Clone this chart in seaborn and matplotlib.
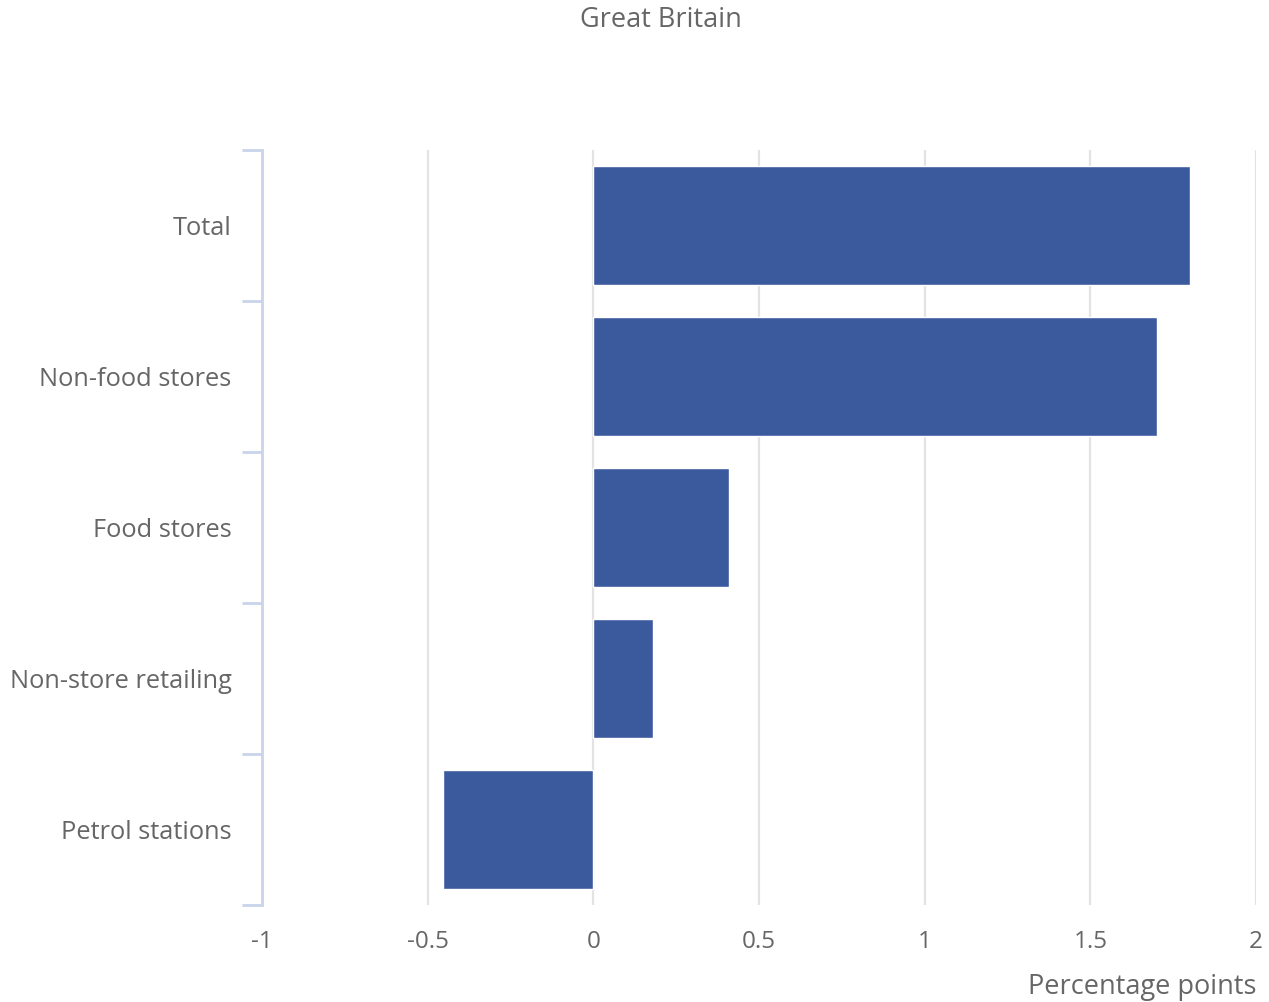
import matplotlib
matplotlib.use("Agg")
import matplotlib.pyplot as plt
import seaborn as sns
import pandas as pd
from matplotlib.ticker import FixedLocator

# data
categories = ["Total", "Non-food stores", "Food stores", "Non-store retailing", "Petrol stations"]
values = [1.80, 1.70, 0.41, 0.18, -0.455]
x_ticks = [-1, -0.5, 0, 0.5, 1, 1.5, 2]
x_tick_labels = ["-1", "-0.5", "0", "0.5", "1", "1.5", "2"]

df = pd.DataFrame({"category": categories, "value": values})

sns.set_style("white")
plt.rcParams["font.family"] = ["Open Sans", "DejaVu Sans"]

grey = "#666666"
axis_col = "#c9d4ea"

fig = plt.figure(figsize=(12.69, 10.02), dpi=100)
ax = fig.add_axes([262 / 1269, 1 - 905 / 1002, (1256 - 262) / 1269, (905 - 150) / 1002])

sns.barplot(data=df, x="value", y="category", orient="h", color="#3b5a9e",
            saturation=1, width=0.79, ax=ax, zorder=3)

ax.set_xlim(-1, 2)
ax.set_ylim(4.5, -0.5)
ax.set_xticks(x_ticks)
ax.set_xticklabels(x_tick_labels)
ax.grid(axis="x", color="#e3e3e3", linewidth=1.6, zorder=0)
ax.grid(axis="y", visible=False)
# the left axis line sits where the -1 grid line would be
ax.xaxis.get_gridlines()[0].set_visible(False)

for s in ["top", "right", "bottom"]:
    ax.spines[s].set_visible(False)
ax.spines["left"].set_color(axis_col)
ax.spines["left"].set_linewidth(2)
ax.spines["left"].set_zorder(4)

ax.tick_params(axis="x", length=0, pad=18, labelsize=17.5, labelcolor=grey)
ax.tick_params(axis="y", which="major", left=False, length=0, pad=22, labelsize=18.3, labelcolor=grey)
ax.yaxis.set_minor_locator(FixedLocator([-0.5, 0.5, 1.5, 2.5, 3.5, 4.5]))
ax.tick_params(axis="y", which="minor", left=True, length=14.5, width=2, color=axis_col)

ax.set_ylabel("")
ax.set_xlabel("")
fig.text(1256 / 1269, 1 - 987 / 1002, "Percentage points", ha="right", va="center",
         fontsize=19.5, color=grey)
fig.text(661 / 1269, 1 - 20 / 1002, "Great Britain", ha="center", va="center",
         fontsize=19.5, color=grey)

fig.savefig("out.png", dpi=100, facecolor="white")
